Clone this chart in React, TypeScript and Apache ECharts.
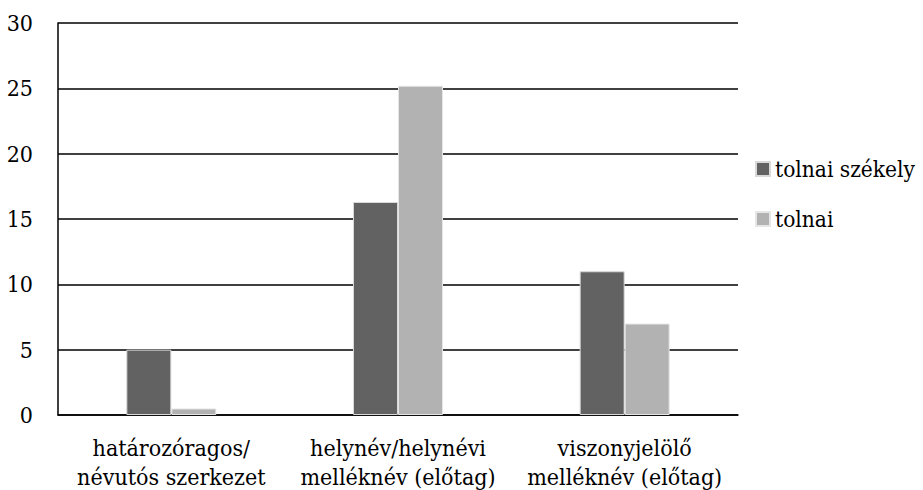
import React, { useEffect, useRef } from "react";
import * as echarts from "echarts";

const categories = [
  "határozóragos/\nnévutós szerkezet",
  "helynév/helynévi\nmelléknév (előtag)",
  "viszonyjelölő\nmelléknév (előtag)",
];
const seriesNames = ["tolnai székely", "tolnai"];
const tolnaiSzekely = [5, 16.3, 11];
const tolnai = [0.5, 25.2, 7];

const FONT = "DejaVu Serif Condensed, DejaVu Serif";
const FS = 23;

export default function App() {
  const ref = useRef<HTMLDivElement>(null);
  useEffect(() => {
    if (!ref.current) return;
    const chart = echarts.init(ref.current, undefined, { renderer: "svg" });
    chart.setOption({
      animation: false,
      backgroundColor: "#ffffff",
      textStyle: { fontFamily: FONT, fontSize: FS },
      grid: {
        left: 58,
        right: 185,
        top: 23,
        bottom: 75,
        containLabel: false,
        outerBoundsMode: "none",
      },
      legend: {
        orient: "vertical",
        left: 750,
        top: 151,
        itemWidth: 14,
        itemHeight: 14,
        itemGap: 24,
        icon: "rect",
        textStyle: { fontFamily: FONT, fontSize: 22.5, color: "#000", lineHeight: 26 },
        data: seriesNames,
      },
      xAxis: {
        type: "category",
        data: categories,
        axisLine: { show: true, lineStyle: { color: "#000", width: 1.5 } },
        axisTick: { show: false },
        axisLabel: {
          fontFamily: FONT,
          fontSize: FS,
          color: "#000",
          lineHeight: 29,
          margin: 18,
          interval: 0,
        },
      },
      yAxis: {
        type: "value",
        min: 0,
        max: 30,
        interval: 5,
        axisLine: { show: true, lineStyle: { color: "#000", width: 1.5 } },
        axisTick: { show: false },
        axisLabel: { fontFamily: FONT, fontSize: FS, color: "#000", margin: 25 },
        splitLine: { show: true, lineStyle: { color: "#000", width: 1.5 } },
      },
      series: [
        {
          name: seriesNames[0],
          type: "bar",
          data: tolnaiSzekely,
          barWidth: 45,
          barGap: "0%",
          itemStyle: { color: "#626262", borderColor: "#d9d9d9", borderWidth: 1 },
        },
        {
          name: seriesNames[1],
          type: "bar",
          data: tolnai,
          barWidth: 45,
          barGap: "0%",
          itemStyle: { color: "#b2b2b2", borderColor: "#e6e6e6", borderWidth: 1 },
        },
      ],
    });
    return () => chart.dispose();
  }, []);
  return (
    <div
      ref={ref}
      style={{ position: "fixed", left: 0, top: 0, width: 923, height: 490 }}
    />
  );
}
